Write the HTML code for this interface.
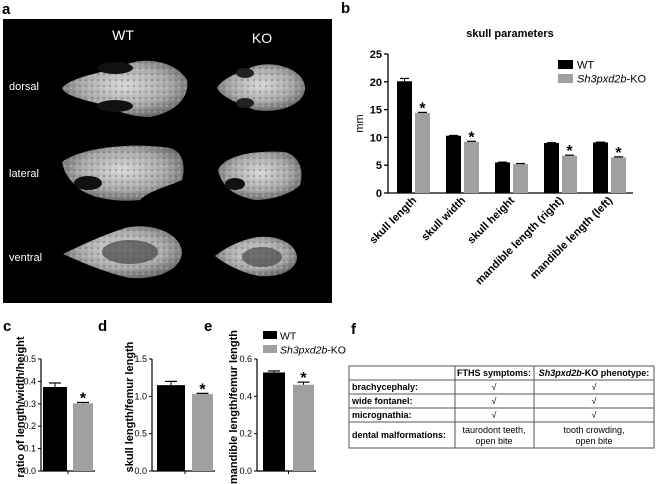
<!DOCTYPE html>
<html><head><meta charset="utf-8"><style>
body{margin:0;background:#fff;}
svg{display:block;font-family:"Liberation Sans",Arial,sans-serif;}
</style></head><body>
<svg id="fig" width="656" height="484" viewBox="0 0 656 484">
<defs>
<radialGradient id="bone" cx="50%" cy="45%" r="60%"><stop offset="0" stop-color="#d8d8d8"/><stop offset="0.6" stop-color="#a8a8a8"/><stop offset="1" stop-color="#606060"/></radialGradient>
<pattern id="tex" width="6" height="6" patternUnits="userSpaceOnUse"><rect width="6" height="6" fill="none"/><circle cx="2" cy="2" r="1" fill="#555" opacity="0.5"/><circle cx="5" cy="4" r="0.8" fill="#eee" opacity="0.5"/></pattern>
</defs>
<!-- panel a -->
<text x="2" y="14" font-size="15" font-weight="bold">a</text>
<rect x="3" y="19" width="329" height="284" fill="#000"/>
<text x="123" y="40" font-size="14" fill="#fff" text-anchor="middle">WT</text>
<text x="262" y="43" font-size="14" fill="#fff" text-anchor="middle">KO</text>
<text x="9" y="90" font-size="11" fill="#fff">dorsal</text>
<text x="9" y="177" font-size="11" fill="#fff">lateral</text>
<text x="9" y="261" font-size="11" fill="#fff">ventral</text>
<g><path id="s1" d="M62,88 C70,78 100,72 120,68 C140,55 175,60 187,80 C190,95 178,112 150,117 C130,117 115,110 100,104 C85,100 65,96 62,88Z" fill="url(#bone)"/><path d="M62,88 C70,78 100,72 120,68 C140,55 175,60 187,80 C190,95 178,112 150,117 C130,117 115,110 100,104 C85,100 65,96 62,88Z" fill="url(#tex)"/><ellipse cx="115" cy="68" rx="18" ry="6" fill="#111"/><ellipse cx="115" cy="106" rx="18" ry="6" fill="#111"/></g>
<g><path d="M217,88 C222,78 240,72 255,66 C280,60 305,72 305,88 C305,104 280,114 255,110 C240,104 222,98 217,88Z" fill="url(#bone)"/><path d="M217,88 C222,78 240,72 255,66 C280,60 305,72 305,88 C305,104 280,114 255,110 C240,104 222,98 217,88Z" fill="url(#tex)"/><ellipse cx="245" cy="73" rx="9" ry="5" fill="#222"/><ellipse cx="245" cy="103" rx="9" ry="5" fill="#222"/></g>
<g><path d="M62,162 C80,148 130,142 170,148 C185,152 185,170 182,180 C170,186 150,190 140,200 C110,203 85,196 75,185 C68,178 64,172 62,162Z" fill="url(#bone)"/><path d="M62,162 C80,148 130,142 170,148 C185,152 185,170 182,180 C170,186 150,190 140,200 C110,203 85,196 75,185 C68,178 64,172 62,162Z" fill="url(#tex)"/><ellipse cx="88" cy="183" rx="14" ry="7" fill="#111"/></g>
<g><path d="M218,170 C225,155 255,150 285,152 C300,156 304,172 300,185 C290,195 270,200 255,200 C235,196 222,188 218,170Z" fill="url(#bone)"/><path d="M218,170 C225,155 255,150 285,152 C300,156 304,172 300,185 C290,195 270,200 255,200 C235,196 222,188 218,170Z" fill="url(#tex)"/><ellipse cx="235" cy="184" rx="10" ry="6" fill="#111"/></g>
<g><path d="M63,254 C80,246 100,236 125,228 C150,222 180,232 182,252 C182,268 160,280 130,278 C110,274 85,264 63,254Z" fill="url(#bone)"/><path d="M63,254 C80,246 100,236 125,228 C150,222 180,232 182,252 C182,268 160,280 130,278 C110,274 85,264 63,254Z" fill="url(#tex)"/><ellipse cx="130" cy="252" rx="28" ry="12" fill="#444" opacity="0.7"/></g>
<g><path d="M215,256 C225,248 240,240 258,237 C280,235 297,245 297,258 C296,270 280,278 258,276 C240,272 225,264 215,256Z" fill="url(#bone)"/><path d="M215,256 C225,248 240,240 258,237 C280,235 297,245 297,258 C296,270 280,278 258,276 C240,272 225,264 215,256Z" fill="url(#tex)"/><ellipse cx="262" cy="257" rx="20" ry="10" fill="#444" opacity="0.7"/></g>

<!-- panel labels -->
<text x="341" y="13" font-size="15" font-weight="bold">b</text>
<text x="3" y="331" font-size="15" font-weight="bold">c</text>
<text x="98" y="331" font-size="15" font-weight="bold">d</text>
<text x="204" y="331" font-size="15" font-weight="bold">e</text>
<text x="351" y="334" font-size="15" font-weight="bold">f</text>

<g id="gb"></g><g id="gc"></g><g id="gd"></g><g id="ge"></g>

<!-- panel f table -->
<g font-size="9" stroke-width="1">
<rect x="349" y="366" width="305" height="82" fill="none" stroke="#555"/>
<line x1="349" y1="380" x2="654" y2="380" stroke="#555"/>
<line x1="349" y1="394" x2="654" y2="394" stroke="#555"/>
<line x1="349" y1="408" x2="654" y2="408" stroke="#555"/>
<line x1="349" y1="422" x2="654" y2="422" stroke="#555"/>
<line x1="455" y1="366" x2="455" y2="448" stroke="#555"/>
<line x1="534" y1="366" x2="534" y2="448" stroke="#555"/>
<text x="494" y="376" text-anchor="middle" font-weight="bold">FTHS symptoms:</text>
<text x="594" y="376" text-anchor="middle" font-weight="bold"><tspan font-style="italic">Sh3pxd2b</tspan>-KO phenotype:</text>
<text x="352" y="390" font-weight="bold">brachycephaly:</text>
<text x="352" y="404" font-weight="bold">wide fontanel:</text>
<text x="352" y="418" font-weight="bold">micrognathia:</text>
<text x="352" y="438" font-weight="bold">dental malformations:</text>
<g text-anchor="middle">
<text x="494" y="390">√</text><text x="594" y="390">√</text>
<text x="494" y="404">√</text><text x="594" y="404">√</text>
<text x="494" y="418">√</text><text x="594" y="418">√</text>
<text x="494" y="433">taurodont teeth,</text><text x="494" y="444">open bite</text>
<text x="594" y="433">tooth crowding,</text><text x="594" y="444">open bite</text>
</g>
</g>
</svg>
<script>
const NS="http://www.w3.org/2000/svg";
// panel b data
const bCategories=["skull length","skull width","skull height","mandible length (right)","mandible length (left)"];
const bWT=[20.1,10.3,5.5,9.0,9.1];
const bWTerr=[0.5,0.05,0.05,0.05,0.05];
const bKO=[14.4,9.2,5.2,6.7,6.4];
const bKOerr=[0.1,0.1,0.1,0.1,0.1];
const bSig=[true,true,false,true,true];
const bTicks=[0,5,10,15,20,25];
// panels c,d,e data
const cValues=[0.375,0.302];const cErr=[0.018,0.004];const cTicks=["0.0","0.1","0.2","0.3","0.4","0.5"];
const dValues=[1.15,1.03];const dErr=[0.05,0.01];const dTicks=["0.0","0.5","1.0","1.5"];
const eValues=[0.528,0.462];const eErr=[0.008,0.014];const eTicks=["0.0","0.2","0.4","0.6"];

function mk(parent,tag,attrs,text){const e=document.createElementNS(NS,tag);for(const k in attrs)e.setAttribute(k,attrs[k]);if(text!==undefined)e.textContent=text;parent.appendChild(e);return e;}

// Panel b
(function(){
const g=document.getElementById('gb');
const x0=388,x1=633,y0=193,yTop=54,max=25;
const y=v=>y0-(v/max)*(y0-yTop);
const step=49,first=397,bw=15;
const tt=mk(g,'text',{x:510,y:37,'font-size':11,'font-weight':'bold','text-anchor':'middle'},'skull parameters');


mk(g,'line',{x1:x0,y1:yTop,x2:x0,y2:y0,stroke:'#000','stroke-width':1.3});
mk(g,'line',{x1:x0,y1:y0,x2:x1,y2:y0,stroke:'#000','stroke-width':1.3});
bTicks.forEach(t=>{
 mk(g,'line',{x1:x0-4,y1:y(t),x2:x0,y2:y(t),stroke:'#000','stroke-width':1.3});
 const tl=mk(g,'text',{x:x0-6,y:y(t)+4,'font-size':11,'font-weight':'bold','text-anchor':'end'},t);
 
 
});
const yt=mk(g,'text',{x:0,y:0,'font-size':11,'text-anchor':'middle',transform:`translate(${x0-25},${y(12.5)}) rotate(-90)`},'mm');


bCategories.forEach((c,i)=>{
 const xw=first+i*step, xk=xw+18;
 [[xw,bWT[i],bWTerr[i],'#000','bar-wt'],[xk,bKO[i],bKOerr[i],'#a0a0a0','bar-ko']].forEach(([bx,v,er,col,nm])=>{
  const r=mk(g,'rect',{x:bx,y:y(v),width:bw,height:y0-y(v),fill:col});
  
  
  mk(g,'line',{x1:bx+bw/2,y1:y(v+er),x2:bx+bw/2,y2:y(v),stroke:'#000'});
  mk(g,'line',{x1:bx+3,y1:y(v+er),x2:bx+bw-3,y2:y(v+er),stroke:'#000','stroke-width':1.2});
 });
 if(bSig[i]){const s=mk(g,'text',{x:xk+bw/2,y:y(bKO[i]+bKOerr[i])+1,'font-size':16,'font-weight':'bold','text-anchor':'middle'},'*');
  
  }
 const cx=xw+16;
 const l=mk(g,'text',{x:0,y:0,'font-size':11,'font-weight':'bold','text-anchor':'end',transform:`translate(${cx+4},${y0+8}) rotate(-45)`},c);
 
 
});
const lg=mk(g,'g',{});


mk(lg,'rect',{x:558,y:60,width:15,height:9,fill:'#000'});
mk(lg,'text',{x:577,y:68.5,'font-size':11},'WT');
mk(lg,'rect',{x:558,y:74,width:15,height:9,fill:'#a0a0a0'});
const t2=mk(lg,'text',{x:577,y:82.5,'font-size':11});
mk(t2,'tspan',{'font-style':'italic'},'Sh3pxd2b');mk(t2,'tspan',{},'-KO');
})();

function small(id,vals,errs,ticks,max,x0,bx,bws,title,tx,name){
 const g=document.getElementById(id);
 
 
 const y0=471,yTop=359;
 const y=v=>y0-(v/max)*(y0-yTop);
 mk(g,'line',{x1:x0,y1:yTop,x2:x0,y2:y0,stroke:'#000','stroke-width':1.2});
 mk(g,'line',{x1:x0,y1:y0,x2:bx[1]+bws[1]+2,y2:y0,stroke:'#000','stroke-width':1.2});
 const mid=(bx[0]+bx[1]+bws[1])/2;
 mk(g,'line',{x1:mid,y1:y0,x2:mid,y2:y0+3,stroke:'#000'});
 ticks.forEach(t=>{const v=parseFloat(t);
  mk(g,'line',{x1:x0-3,y1:y(v),x2:x0,y2:y(v),stroke:'#000'});
  const tl=mk(g,'text',{x:x0-5,y:y(v)+3,'font-size':9,'text-anchor':'end'},t);
  
  
 });
 const cols=['#000','#a0a0a0'];
 vals.forEach((v,i)=>{
  const r=mk(g,'rect',{x:bx[i],y:y(v),width:bws[i],height:y0-y(v),fill:cols[i]});
  
  
  const cx=bx[i]+bws[i]/2;
  mk(g,'line',{x1:cx,y1:y(v+errs[i]),x2:cx,y2:y(v),stroke:'#000'});
  mk(g,'line',{x1:cx-6,y1:y(v+errs[i]),x2:cx+6,y2:y(v+errs[i]),stroke:'#000','stroke-width':1.2});
 });
 const s=mk(g,'text',{x:bx[1]+bws[1]/2,y:y(vals[1]+errs[1])+1,'font-size':16,'font-weight':'bold','text-anchor':'middle'},'*');
 
 
 const yt=mk(g,'text',{x:0,y:0,'font-size':11,'font-weight':'bold','text-anchor':'middle',transform:`translate(${tx},${(y0+yTop)/2-8}) rotate(-90)`},title);
 
 
 return y;
}
small('gc',cValues,cErr,cTicks,0.5,41,[43,73],[24,20],'ratio of length/width/height',24,'chart-c');
small('gd',dValues,dErr,dTicks,1.5,152,[157,192],[28,21],'skull length/femur length',133,'chart-d');
small('ge',eValues,eErr,eTicks,0.6,257,[263,293],[22,21],'mandible length/femur length',237,'chart-e');
(function(){
 const g=document.getElementById('ge');
 const lg=mk(g,'g',{});
 
 
 mk(lg,'rect',{x:263,y:331,width:14,height:8,fill:'#000'});
 mk(lg,'text',{x:280,y:339.5,'font-size':10.5},'WT');
 mk(lg,'rect',{x:263,y:345,width:14,height:8,fill:'#a0a0a0'});
 const t=mk(lg,'text',{x:280,y:353.5,'font-size':10.5});
 mk(t,'tspan',{'font-style':'italic'},'Sh3pxd2b');mk(t,'tspan',{},'-KO');
})();
</script>
</body></html>
